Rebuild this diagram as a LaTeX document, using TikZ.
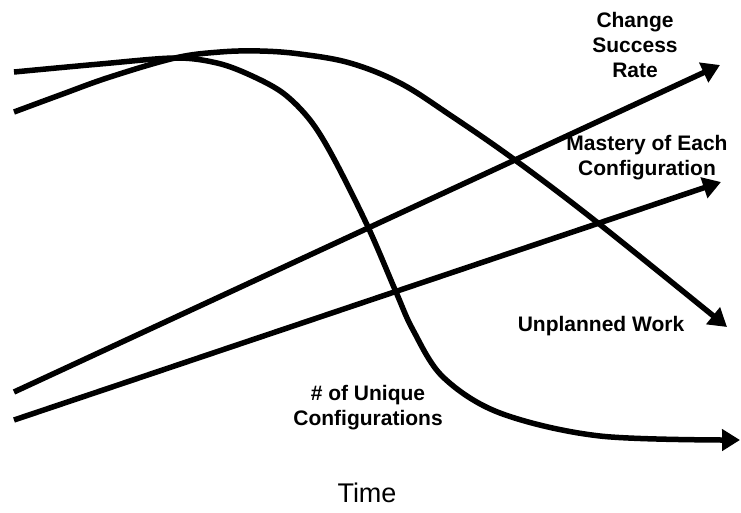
\documentclass[tikz,border=0pt]{standalone}
\usepackage{fontspec}
\setmainfont{Liberation Sans}
\usetikzlibrary{arrows.meta}
\begin{document}
\begin{tikzpicture}[x=1pt,y=-1pt,
  trend/.style={line width=5.5pt, line join=round,
    -{Triangle[length=18pt,width=21pt]}},
  lbl/.style={font=\bfseries\fontsize{21}{25}\selectfont, align=center, inner sep=0pt},
  axislbl/.style={font=\fontsize{27}{32}\selectfont, inner sep=0pt}]
  \useasboundingbox (0,0) rectangle (741,512);

  % end points of the two straight trends
  \coordinate (csr0) at (14,392);
  \coordinate (csr1) at (720,65);
  \coordinate (mas0) at (14,420);
  \coordinate (mas1) at (721,182);

  % change success rate and mastery: steady rise
  \draw[trend] (csr0) -- (csr1);
  \draw[trend] (mas0) -- (mas1);

  % number of unique configurations: falls steeply, then levels off
  \draw[trend] plot[smooth, tension=0.55] coordinates {
    (14,72) (100,64) (175,58) (217,63) (250,75) (283,93) (310,120)
    (333,157) (368,227) (396,292) (413,330) (443,377) (500,413)
    (600,436) (740,440)};

  % unplanned work: rises, then falls
  \draw[trend] plot[smooth, tension=0.6] coordinates {
    (14,112) (60,95) (110,77) (175,58) (220,52) (260,51) (300,54)
    (350,63) (400,83) (450,115) (515,160) (598,223) (727,327)};

  % labels
  \node[lbl] (csrlbl) at (635,45) {Change\\Success\\Rate};
  \node[lbl] (maslbl) at (647,158) {Mastery of Each\\Configuration};
  \node[lbl] (uwlbl) at (601,326) {Unplanned Work};
  \node[lbl] (uclbl) at (368,408) {\# of Unique\\Configurations};
  \node[axislbl] (time) at (367,493) {Time};
\end{tikzpicture}
\end{document}
